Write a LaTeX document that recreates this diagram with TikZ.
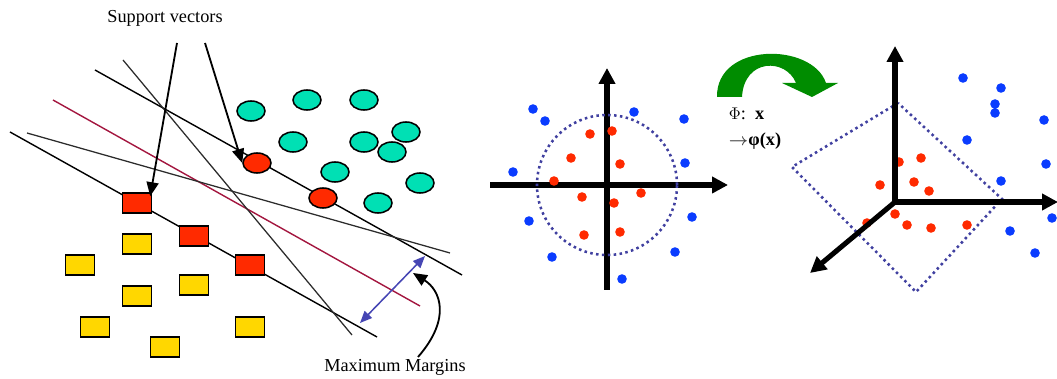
\documentclass[tikz,border=0pt]{standalone}
\usepackage{fontspec}
\setmainfont{Liberation Serif}
\usepackage{tikz}
\usetikzlibrary{shapes.geometric,arrows.meta,positioning,calc}
\definecolor{SvmTeal}{HTML}{00E0B4}
\definecolor{SvmRed}{HTML}{FF2A00}
\definecolor{SvmYellow}{HTML}{FFD700}
\definecolor{SvmMaroon}{HTML}{A3163F}
\definecolor{SvmDark}{HTML}{2B2B2B}
\definecolor{SvmArrowBlue}{HTML}{4646B4}
\definecolor{SvmDotted}{HTML}{4040A0}
\definecolor{SvmBlue}{HTML}{0A3CFF}
\definecolor{SvmGreen}{HTML}{008C00}
\definecolor{SvmGrey}{HTML}{444444}

\begin{document}
\begin{tikzpicture}[x=0.025cm, y=-0.025cm, every node/.style={align=center},
  blob/.style={ellipse, draw=black, line width=1.1pt, fill=SvmTeal,
    minimum width=0.7cm, minimum height=0.5cm, inner sep=0pt},
  box/.style={rectangle, draw=black, line width=1.1pt, fill=SvmYellow,
    minimum width=0.72cm, minimum height=0.5cm, inner sep=0pt},
  axisline/.style={line width=3.6pt, -{Triangle[length=0.4cm,width=0.4cm]}},
  ring/.style={draw=SvmDotted, line width=1.8pt, dash pattern=on 1.8pt off 2.4pt},
  pointer/.style={line width=1.3pt, -{Triangle[length=0.35cm,width=0.3cm]}},
  lbl/.style={font=\fontsize{13}{15}\selectfont}]
  \useasboundingbox (0,0) rectangle (1057,379);

  % left panel: separating lines
  \draw[line width=1pt] (95,70) -- (462,275);
  \draw[line width=1pt] (10,132) -- (377,337);
  \draw[line width=1pt, SvmMaroon] (53,100) -- (420,306);
  \draw[line width=0.9pt, SvmDark] (123,60) -- (352,335);
  \draw[line width=0.9pt, SvmDark] (27,133) -- (450,253);

  % class +1
  \node[blob] (c1) at (251,111) {};
  \node[blob] (c2) at (307,100) {};
  \node[blob] (c3) at (364,100) {};
  \node[blob] (c4) at (406,132) {};
  \node[blob] (c5) at (293,142) {};
  \node[blob] (c6) at (364,142) {};
  \node[blob] (c7) at (392,152) {};
  \node[blob] (c8) at (335,172) {};
  \node[blob] (c9) at (420,183) {};
  \node[blob] (c10) at (378,203) {};
  \node[blob, fill=SvmRed] (rc1) at (257,163) {};
  \node[blob, fill=SvmRed] (rc2) at (323,198) {};

  % class -1
  \node[box] (y1) at (137,244) {};
  \node[box] (y2) at (80,265) {};
  \node[box] (y3) at (194,285) {};
  \node[box] (y4) at (137,296) {};
  \node[box] (y5) at (95,327) {};
  \node[box] (y6) at (165,347) {};
  \node[box] (y7) at (250,327) {};
  \node[box, fill=SvmRed] (rs1) at (137,203) {};
  \node[box, fill=SvmRed] (rs2) at (194,236) {};
  \node[box, fill=SvmRed] (rs3) at (250,265) {};

  % labels and pointers
  \node[lbl] (sv) at (165,18) {Support vectors};
  \coordinate (sva) at (177,43);
  \coordinate (svb) at (205,43);
  \draw[pointer] (sva) -- ($(rs1.north east)+(-2,4)$);
  \draw[pointer] (svb) -- (rc1.west);

  \node[lbl] (mm) at (395,367) {Maximum Margins};
  \coordinate (ma) at (360,323);
  \coordinate (mb) at (425,256);
  \draw[line width=1.1pt, SvmArrowBlue,
    {Triangle[length=0.3cm,width=0.25cm]}-{Triangle[length=0.3cm,width=0.25cm]}] (ma) -- (mb);
  \coordinate (mmtail) at (418,357);
  \coordinate (mmtip) at (413,273);
  \draw[pointer] (mmtail) .. controls (452,318) and (440,290) .. (mmtip);

  % middle panel: input space
  \coordinate (o1) at (607,185);
  \draw[axisline] (490,185) -- (728,185);
  \draw[axisline] (607,290) -- (607,68);
  \draw[ring] (o1) circle[radius=1.75cm];
  \fill[SvmRed] (590,134) circle[radius=0.12cm] (612,131) circle[radius=0.12cm]
    (571,158) circle[radius=0.12cm] (620,164) circle[radius=0.12cm]
    (554,181) circle[radius=0.12cm] (582,197) circle[radius=0.12cm]
    (641,193) circle[radius=0.12cm] (614,203) circle[radius=0.12cm]
    (584,235) circle[radius=0.12cm] (620,232) circle[radius=0.12cm];
  \fill[SvmBlue] (533,109) circle[radius=0.12cm] (545,121) circle[radius=0.12cm]
    (634,112) circle[radius=0.12cm] (684,119) circle[radius=0.12cm]
    (685,163) circle[radius=0.12cm] (513,172) circle[radius=0.12cm]
    (692,217) circle[radius=0.12cm] (529,221) circle[radius=0.12cm]
    (675,252) circle[radius=0.12cm] (552,257) circle[radius=0.12cm]
    (622,279) circle[radius=0.12cm];

  % mapping
  \fill[SvmGreen] (717,97) .. controls (716,42) and (812,42) .. (826,83)
    -- (838,83) -- (812,97) -- (782,83) -- (796,83)
    .. controls (786,58) and (744,58) .. (742,97) -- cycle;
  \node[lbl, anchor=west] (phi) at (724,114) {$\Phi$:\ \ \textbf{x}};
  \node[lbl, anchor=west] (phx) at (724,141) {\textcolor{SvmGrey}{\boldmath$\rightarrow$}\textbf{φ(x)}};

  % right panel: feature space
  \coordinate (o2) at (895,202);
  \draw[ring] (898,103) -- (792,167) -- (916,292) -- (1002,199) -- cycle;
  \fill[SvmRed] (899,162) circle[radius=0.12cm] (921,158) circle[radius=0.12cm]
    (880,185) circle[radius=0.12cm] (914,182) circle[radius=0.12cm]
    (929,191) circle[radius=0.12cm] (895,214) circle[radius=0.12cm]
    (867,223) circle[radius=0.12cm] (907,225) circle[radius=0.12cm]
    (931,228) circle[radius=0.12cm] (967,225) circle[radius=0.12cm];
  \fill[SvmBlue] (963,78) circle[radius=0.12cm] (1001,88) circle[radius=0.12cm]
    (995,104) circle[radius=0.12cm] (995,113) circle[radius=0.12cm]
    (1044,120) circle[radius=0.12cm] (967,140) circle[radius=0.12cm]
    (1046,164) circle[radius=0.12cm] (1001,181) circle[radius=0.12cm]
    (1052,218) circle[radius=0.12cm] (1010,231) circle[radius=0.12cm]
    (1035,253) circle[radius=0.12cm];
  \draw[axisline] (o2) -- (895,46);
  \draw[axisline] (o2) -- (1058,202);
  \draw[axisline] (o2) -- (810,273);
\end{tikzpicture}
\end{document}
